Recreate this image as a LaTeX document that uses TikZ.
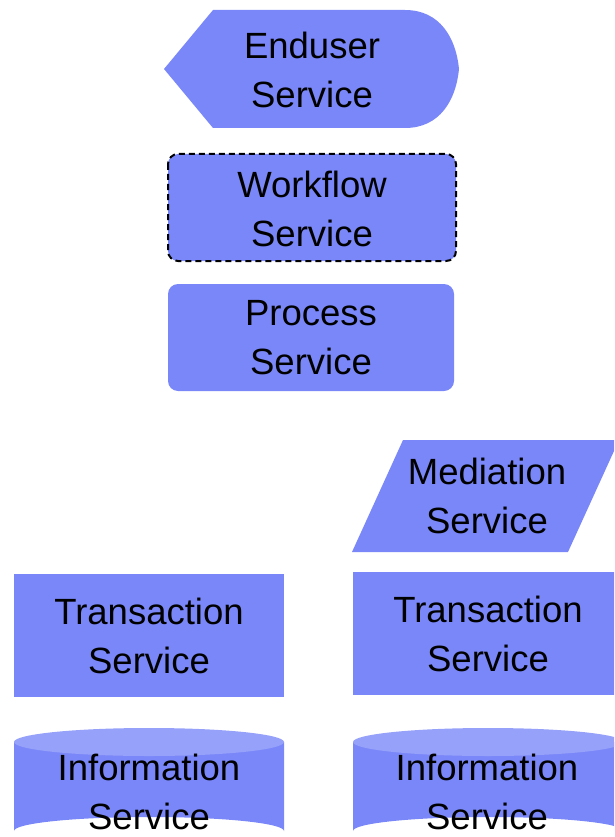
\documentclass[tikz,border=0pt]{standalone}
\usepackage{fontspec}
\setmainfont{Liberation Sans}
\definecolor{svcfill}{HTML}{7A87F8}
\definecolor{svctop}{HTML}{96A1F9}
\begin{document}
\begin{tikzpicture}[x=1pt,y=-1pt,
  shapefill/.style={fill=svcfill,draw=none},
  label/.style={align=center,inner sep=0pt,font=\fontsize{36.5}{49}\selectfont,text=black}]
\useasboundingbox (0,0) rectangle (614,837);
\begin{scope}
\clip (0,0) rectangle (614,837);
% Enduser
\path[shapefill] (164,69) -- (213,10) -- (405,10)
  .. controls (440,10) and (456,38) .. (459,69)
  .. controls (456,100) and (440,128) .. (405,128) -- (213,128) -- cycle;
% Workflow
\path[shapefill,draw=black,line width=2pt,dash pattern=on 6pt off 4pt,rounded corners=10pt] (168,154) rectangle (456,261);
% Process
\path[shapefill,rounded corners=10pt] (168,284) rectangle (454,391);
% Mediation
\path[shapefill] (403,440) -- (619,440) -- (568,552) -- (352,552) -- cycle;
% Transactions
\path[shapefill] (14,574) rectangle (284,697);
\path[shapefill] (353,572) rectangle (623,695);
% Information cylinders
\foreach \cx/\w in {149/135,488/135}{
  \path[shapefill] (\cx-\w,742) -- (\cx-\w,831) arc[start angle=180,end angle=360,x radius=\w,y radius=14] -- (\cx+\w,742) -- cycle;
  \path[fill=svctop] (\cx,742) ellipse [x radius=\w,y radius=14];
}
\end{scope}
\node[label] (enduser) at (312,70) {Enduser\\Service};
\node[label] (workflow) at (312,209) {Workflow\\Service};
\node[label] (process) at (311,338) {Process\\Service};
\node[label] (mediation) at (487,496) {Mediation\\Service};
\node[label] (trans1) at (149,636) {Transaction\\Service};
\node[label] (trans2) at (488,634) {Transaction\\Service};
\node[label] (info1) at (149,792) {Information\\Service};
\node[label] (info2) at (487,792) {Information\\Service};
\end{tikzpicture}
\end{document}
